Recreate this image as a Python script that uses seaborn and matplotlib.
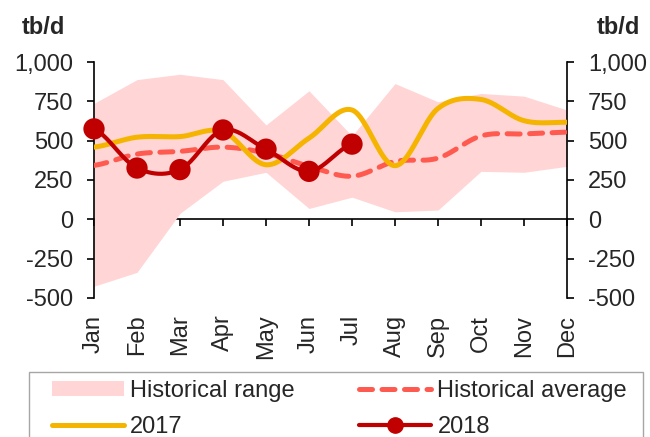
import numpy as np
import matplotlib
matplotlib.use("Agg")
import matplotlib.pyplot as plt
import seaborn as sns
from matplotlib.patches import Patch, Rectangle
from matplotlib.lines import Line2D
from matplotlib.ticker import FuncFormatter

# Monthly values, tb/d
months = ["Jan", "Feb", "Mar", "Apr", "May", "Jun",
          "Jul", "Aug", "Sep", "Oct", "Nov", "Dec"]
range_low = [-425, -337, 38, 242, 299, 69, 141, 48, 59, 305, 299, 337]
range_high = [737, 888, 922, 888, 600, 817, 530, 863, 747, 800, 783, 695]
hist_avg = [343, 415, 432, 459, 421, 337, 274, 368, 389, 530, 543, 554]
y2017 = [459, 522, 526, 558, 347, 516, 695, 341, 705, 762, 627, 617]
y2018 = [575, 326, 316, 568, 446, 305, 478]

C_RANGE = "#FFD5D5"
C_AVG = "#FF5A4F"
C_2017 = "#F5B400"
C_2018 = "#C00000"


def smooth(values, steps=24):
    """Catmull-Rom style smoothing between monthly points."""
    y = np.asarray(values, dtype=float)
    n = len(y)
    m = np.empty(n)
    for i in range(n):
        lo = y[max(i - 1, 0)]
        hi = y[min(i + 1, n - 1)]
        m[i] = (hi - lo) / 2.0
    xs, ys = [], []
    for i in range(n - 1):
        t = np.linspace(0, 1, steps, endpoint=(i == n - 2))
        h00 = 2 * t**3 - 3 * t**2 + 1
        h10 = t**3 - 2 * t**2 + t
        h01 = -2 * t**3 + 3 * t**2
        h11 = t**3 - t**2
        xs.append(i + t)
        ys.append(h00 * y[i] + h10 * m[i] + h01 * y[i + 1] + h11 * m[i + 1])
    return np.concatenate(xs), np.concatenate(ys)


sns.set_style("white")
plt.rcParams["font.family"] = ["Liberation Sans", "DejaVu Sans"]
FS = 17

fig = plt.figure(figsize=(6.5, 4.37), dpi=100)
ax = fig.add_axes([94 / 650, 139 / 437, (567 - 94) / 650, (298 - 62) / 437])

x = np.arange(len(months))

# Historical range band
ax.fill_between(x, range_low, range_high, color=C_RANGE, lw=0, zorder=1)

# Historical average (dashed)
xa, ya = smooth(hist_avg)
sns.lineplot(x=xa, y=ya, ax=ax, color=C_AVG, lw=3.6, sort=False,
             estimator=None, zorder=3)
avg_line = ax.lines[-1]
avg_line.set_dashes((2.6, 1.9))
avg_line.set_dash_capstyle("round")

# 2017
x7, y7 = smooth(y2017)
sns.lineplot(x=x7, y=y7, ax=ax, color=C_2017, lw=3.6, sort=False,
             estimator=None, zorder=4)

# 2018
x8, y8 = smooth(y2018)
sns.lineplot(x=x8, y=y8, ax=ax, color=C_2018, lw=3.0, sort=False,
             estimator=None, zorder=5)
sns.scatterplot(x=x[:len(y2018)], y=y2018, ax=ax, color=C_2018, s=235,
                edgecolor="none", zorder=6, clip_on=False)

ax.set_xlim(0, 11)
ax.set_ylim(-500, 1000)
ax.set_yticks(np.arange(-500, 1001, 250))
ax.yaxis.set_major_formatter(FuncFormatter(lambda v, p: f"{int(v):,}"))
ax.set_xlabel("")
ax.set_ylabel("")

for s in ["top", "bottom"]:
    ax.spines[s].set_visible(False)
for s in ["left", "right"]:
    ax.spines[s].set_visible(True)
    ax.spines[s].set_color("black")
    ax.spines[s].set_linewidth(1.2)

ax.tick_params(axis="y", which="both", left=True, right=True,
               labelleft=True, labelright=True, direction="out",
               length=5, width=1.2, color="black", labelsize=FS, pad=10)

# Month labels along the bottom
ax.set_xticks(x)
ax.set_xticklabels(months, rotation=90, fontsize=FS, va="top", ha="center")
ax.tick_params(axis="x", length=0, pad=12)

# Zero line carrying the month ticks
zero_ax = ax.secondary_xaxis(1 / 3)
zero_ax.set_xticks(x)
zero_ax.tick_params(axis="x", direction="out", length=5, width=1.2,
                    color="black", labelbottom=False, labeltop=False)
for s in zero_ax.spines.values():
    s.set_linewidth(1.2)
    s.set_color("black")

# Unit labels
fig.text(43 / 650, 1 - 27 / 437, "tb/d", fontsize=FS, fontweight="bold",
         ha="center", va="center")
fig.text(618 / 650, 1 - 27 / 437, "tb/d", fontsize=FS, fontweight="bold",
         ha="center", va="center")

# Legend box and entries
fig.patches.append(Rectangle((29 / 650, -0.1), (643 - 29) / 650,
                             (437 - 372) / 437 + 0.1,
                             transform=fig.transFigure, fill=False,
                             edgecolor="#A6A6A6", lw=1.0))
handles = [
    Patch(facecolor=C_RANGE, edgecolor="none"),
    Line2D([], [], color=C_2017, lw=3.6),
    Line2D([], [], color=C_AVG, lw=3.6, dashes=(2.6, 1.9),
           dash_capstyle="round"),
    Line2D([], [], color=C_2018, lw=3.0, marker="o", markersize=11),
]
labels = ["Historical range", "2017", "Historical average", "2018"]
fig.legend(handles, labels, loc="upper left",
           bbox_to_anchor=(52 / 650, (437 - 380) / 437),
           ncol=2, frameon=False, fontsize=FS, borderpad=0,
           borderaxespad=0, handlelength=3.05, handletextpad=0.25,
           columnspacing=2.75, labelspacing=0.6, numpoints=1,
           handleheight=0.6)

fig.savefig("out.png", dpi=100)
